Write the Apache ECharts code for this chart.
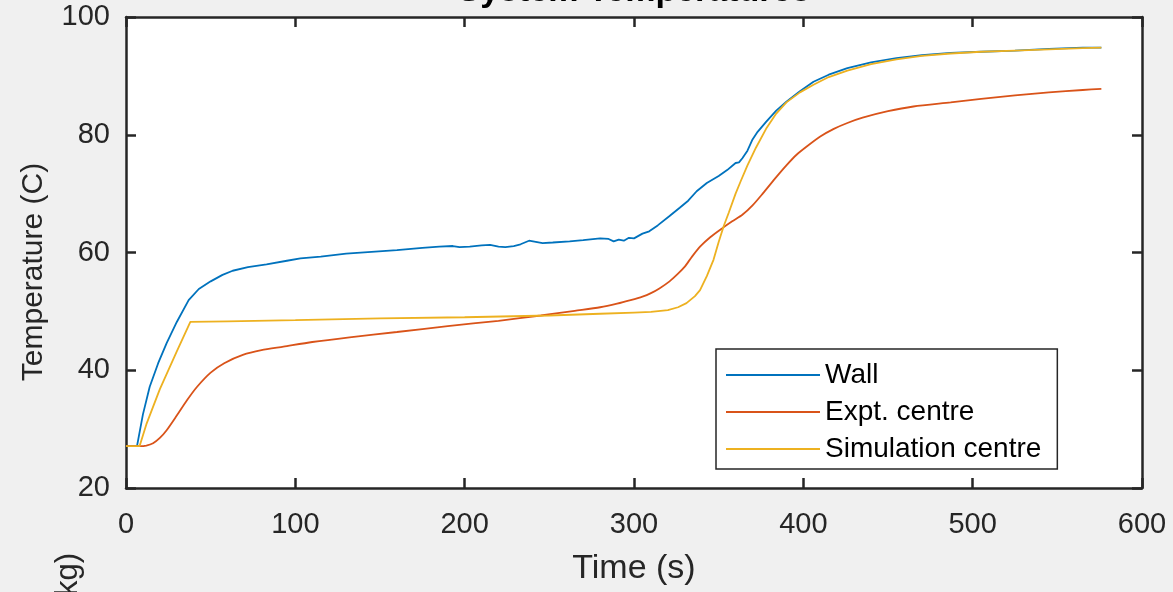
<!DOCTYPE html>
<html>
<head>
<meta charset="utf-8">
<script src="https://cdn.jsdelivr.net/npm/echarts@6/dist/echarts.min.js"></script>
<style>
  html, body { margin: 0; padding: 0; background: #f0f0f0; }
  #chart { width: 1173px; height: 592px; }
</style>
</head>
<body>
<div id="chart"></div>
<script>
// Wall thermocouple (s, °C)
const wallTime = [0, 6.5, 10, 14, 19, 24, 30, 37, 43, 50, 57, 63, 72, 83, 95, 103, 115, 130, 145, 160, 175, 185, 193, 197, 203, 210, 215, 220, 224, 229, 233, 238, 242, 246, 252, 262, 270, 280, 285, 288, 291, 294, 297, 300, 305, 309, 314, 321, 327, 332, 337, 343, 350, 355, 360, 362, 364, 367, 370, 373, 378, 384, 390, 398, 406, 415, 426, 440, 455, 470, 487, 505, 525, 545, 565, 576];
const wallTemp = [27.1, 27.1, 32.5, 37.2, 41.2, 44.6, 48.2, 51.9, 53.8, 55.1, 56.2, 56.9, 57.5, 58.0, 58.6, 59.0, 59.3, 59.8, 60.1, 60.4, 60.8, 61.0, 61.1, 60.9, 61.0, 61.2, 61.3, 61.0, 60.9, 61.1, 61.4, 62.0, 61.8, 61.6, 61.7, 61.9, 62.1, 62.4, 62.3, 61.9, 62.2, 62.0, 62.5, 62.4, 63.2, 63.6, 64.6, 66.2, 67.6, 68.8, 70.4, 71.8, 73.0, 74.0, 75.2, 75.3, 76.0, 77.3, 79.2, 80.5, 82.2, 84.1, 85.6, 87.4, 89.0, 90.2, 91.3, 92.3, 93.0, 93.5, 93.9, 94.1, 94.3, 94.6, 94.8, 94.8];

// Measured centre temperature
const exptTime = [0, 8, 12, 16, 20, 24, 30, 36, 42, 50, 58, 69, 80, 93, 110, 132, 160, 190, 220, 245, 265, 280, 290, 298, 305, 310, 315, 321, 326, 330, 334, 339, 345, 352, 358, 364, 370, 376, 384, 390, 396, 402, 410, 418, 426, 435, 450, 465, 487, 505, 525, 545, 565, 576];
const exptTemp = [27.1, 27.1, 27.2, 27.6, 28.5, 29.8, 32.3, 34.9, 37.2, 39.6, 41.2, 42.6, 43.4, 44.0, 44.8, 45.6, 46.5, 47.5, 48.4, 49.3, 50.1, 50.7, 51.3, 51.9, 52.5, 53.1, 53.9, 55.1, 56.4, 57.6, 59.2, 61.0, 62.6, 64.1, 65.3, 66.4, 68.0, 70.0, 72.8, 74.8, 76.6, 78.0, 79.7, 81.0, 82.0, 82.9, 84.0, 84.8, 85.5, 86.1, 86.7, 87.2, 87.6, 87.8];

// Simulated centre temperature
const simTime = [0, 8, 12, 20, 30, 38, 60, 100, 150, 200, 250, 280, 300, 310, 320, 326, 331, 336, 339, 343, 347, 350, 353, 356, 360, 363, 367, 372, 378, 384, 390, 398, 406, 415, 426, 440, 455, 470, 487, 505, 525, 545, 565, 576];
const simTemp = [27.1, 27.1, 30.8, 36.8, 43.2, 48.2, 48.3, 48.5, 48.8, 49.0, 49.3, 49.6, 49.8, 49.9, 50.2, 50.7, 51.4, 52.6, 53.6, 56.0, 58.8, 61.8, 64.5, 66.8, 70.0, 72.1, 74.8, 77.8, 81.0, 83.6, 85.5, 87.2, 88.5, 89.8, 90.9, 92.0, 92.8, 93.4, 93.8, 94.1, 94.3, 94.5, 94.7, 94.8];

const seriesNames = ['Wall', 'Expt. centre', 'Simulation centre'];
const seriesColors = ['#0072BD', '#D95319', '#EDB120'];

const pairs = (t, v) => t.map((x, i) => [x, v[i]]);

const font = '"Liberation Sans", Arial, Helvetica, sans-serif';
const axisColor = '#262626';

const chart = echarts.init(document.getElementById('chart'), null, { renderer: 'canvas' });

const baseAxis = {
  axisLine: { show: true, onZero: false, lineStyle: { color: axisColor, width: 2.5 } },
  axisTick: { show: true, inside: true, length: 10, lineStyle: { color: axisColor, width: 2.5 } },
  splitLine: { show: false },
  axisLabel: { color: axisColor, fontSize: 29, fontFamily: font }
};

const mainLine = (name, data, color, smooth) => ({
  name, type: 'line', data, symbol: 'none', smooth: smooth || false,
  lineStyle: { color, width: 1.8 }, itemStyle: { color }, z: 3
});

chart.setOption({
  backgroundColor: '#f0f0f0',
  animation: false,
  grid: { left: 126, right: 31, top: 17, bottom: 104, show: true, backgroundColor: '#ffffff', borderWidth: 0 },
  xAxis: [
    Object.assign({}, baseAxis, {
      type: 'value', min: 0, max: 600, interval: 100, position: 'bottom',
      name: 'Time (s)', nameLocation: 'middle', nameGap: 64,
      nameTextStyle: { color: axisColor, fontSize: 34, fontFamily: font },
      axisLabel: Object.assign({}, baseAxis.axisLabel, { margin: 22 })
    }),
    Object.assign({}, baseAxis, {
      type: 'value', min: 0, max: 600, interval: 100, position: 'top',
      axisLabel: { show: false }
    })
  ],
  yAxis: [
    Object.assign({}, baseAxis, {
      type: 'value', min: 20, max: 100, interval: 20, position: 'left',
      axisLabel: Object.assign({}, baseAxis.axisLabel, { margin: 16 })
    }),
    Object.assign({}, baseAxis, {
      type: 'value', min: 20, max: 100, interval: 20, position: 'right',
      axisLabel: { show: false }
    })
  ],
  legend: {
    orient: 'vertical', left: 716, top: 349,
    data: seriesNames,
    icon: 'rect', itemWidth: 94, itemHeight: 2, itemGap: 9, itemTextGap: 12,
    padding: [12, 16, 6, 10],
    backgroundColor: '#ffffff', borderColor: axisColor, borderWidth: 1.5, borderRadius: 0,
    textStyle: { color: '#000000', fontSize: 28, fontFamily: font }
  },
  graphic: [
    {
      type: 'text', x: 634, y: 9, silent: true,
      style: { text: 'System Temperatures', align: 'center', verticalAlign: 'bottom',
        font: 'bold 34px ' + font, fill: '#000000' }
    },
    {
      type: 'text', x: 34, y: 272, rotation: Math.PI / 2, silent: true,
      style: { text: 'Temperature (C)', align: 'center', verticalAlign: 'middle',
        font: '30px ' + font, fill: axisColor }
    },
    {
      type: 'text', x: 68, y: 553, rotation: Math.PI / 2, silent: true,
      style: { text: 'Mass (kg)', align: 'right', verticalAlign: 'middle',
        font: '31px ' + font, fill: axisColor }
    }
  ],
  series: [
    mainLine(seriesNames[0], pairs(wallTime, wallTemp), seriesColors[0]),
    mainLine(seriesNames[1], pairs(exptTime, exptTemp), seriesColors[1], 0.25),
    mainLine(seriesNames[2], pairs(simTime, simTemp), seriesColors[2])
  ]
});
</script>
</body>
</html>
